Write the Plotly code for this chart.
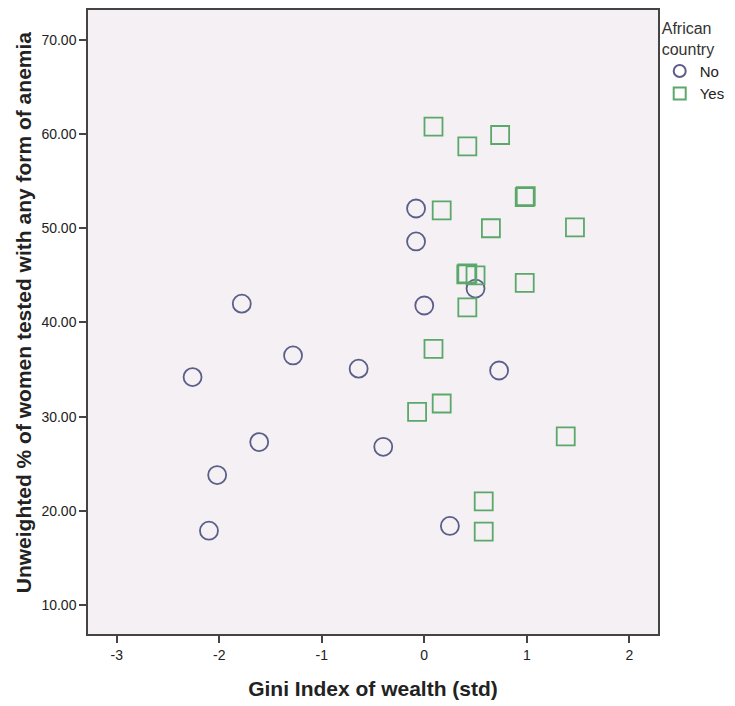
import plotly.graph_objects as go

# Non-African countries (circles)
no_gini = [-0.08, -0.08, -1.78, 0.00, 0.50, -1.28, -2.26, -0.64, 0.73, -1.61, -0.40, -2.02, -2.10, 0.25]
no_anemia = [52.1, 48.6, 42.0, 41.8, 43.6, 36.5, 34.2, 35.1, 34.9, 27.3, 26.8, 23.8, 17.9, 18.4]

# African countries (squares)
yes_gini = [0.09, 0.42, 0.74, 0.98, 0.99, 0.17, 0.65, 1.47, 0.41, 0.42, 0.50, 0.98, 0.42,
            0.09, 0.17, -0.07, 1.38, 0.58, 0.58]
yes_anemia = [60.8, 58.7, 59.9, 53.3, 53.4, 51.9, 50.0, 50.1, 45.1, 45.2, 45.0, 44.2, 41.6,
              37.2, 31.4, 30.5, 27.9, 21.0, 17.8]

x_ticks = [-3, -2, -1, 0, 1, 2]
y_ticks = [10, 20, 30, 40, 50, 60, 70]

fig = go.Figure()
fig.add_trace(go.Scatter(
    x=no_gini, y=no_anemia, mode="markers", name="No",
    marker=dict(symbol="circle-open", size=18, color="#5b5e88", line=dict(width=1.8)),
))
fig.add_trace(go.Scatter(
    x=yes_gini, y=yes_anemia, mode="markers", name="Yes",
    marker=dict(symbol="square-open", size=18, color="#5aa86a", line=dict(width=1.8)),
))

font_family = "Liberation Sans, Arial, sans-serif"
fig.update_layout(
    width=735, height=706,
    margin=dict(l=80, r=85, t=0, b=80),
    paper_bgcolor="white",
    plot_bgcolor="#f4f0f4",
    font=dict(family=font_family, color="#222222", size=14),
    showlegend=True,
    legend=dict(
        title=dict(text="African<br>country", font=dict(size=16, color="#333333")),
        x=1.003, y=0.995, xanchor="left", yanchor="top",
        font=dict(size=15, color="#222222"),
        bgcolor="rgba(0,0,0,0)",
        itemsizing="constant",
        tracegroupgap=0,
        itemwidth=30,
    ),
    xaxis=dict(
        range=[-3.28, 2.28], tickvals=x_ticks, ticktext=[str(v) for v in x_ticks],
        showgrid=False, zeroline=False,
        showline=True, mirror=True, linecolor="#444444", linewidth=1.5,
        ticks="outside", ticklen=7, tickwidth=1.5, tickcolor="#444444",
        tickfont=dict(size=14, color="#222222"),
        title=dict(text="<b>Gini Index of wealth (std)</b>", font=dict(size=21, color="#222222"), standoff=20),
    ),
    yaxis=dict(
        range=[6.93, 73.17], tickvals=y_ticks, tickformat=".2f",
        showgrid=False, zeroline=False,
        showline=True, mirror=True, linecolor="#444444", linewidth=1.5,
        ticks="outside", ticklen=7, tickwidth=1.5, tickcolor="#444444",
        tickfont=dict(size=14, color="#222222"),
    ),
    annotations=[dict(
        text="<b>Unweighted % of women tested with any form of anemia</b>",
        xref="paper", yref="paper", x=-0.113, y=0.515,
        xanchor="center", yanchor="middle", textangle=-90, showarrow=False,
        font=dict(size=21, color="#222222"),
    )],
)

fig.write_html("out.html")
